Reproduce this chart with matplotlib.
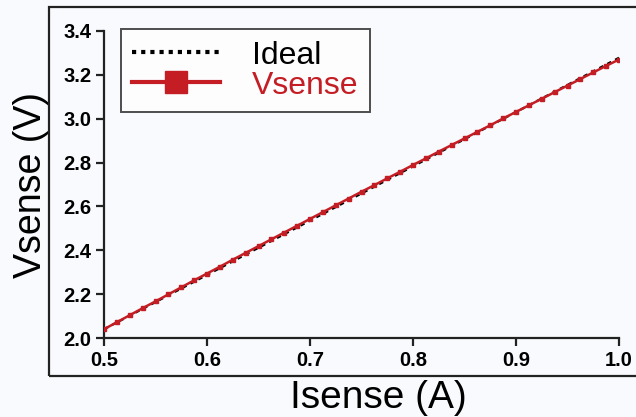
import matplotlib
matplotlib.use("Agg")
import matplotlib.pyplot as plt
from matplotlib.patches import Rectangle

# ── data ──────────────────────────────────────────────────────────────────────
isense = [0.5000, 0.5125, 0.5250, 0.5375, 0.5500, 0.5625, 0.5750, 0.5875,
          0.6000, 0.6125, 0.6250, 0.6375, 0.6500, 0.6625, 0.6750, 0.6875,
          0.7000, 0.7125, 0.7250, 0.7375, 0.7500, 0.7625, 0.7750, 0.7875,
          0.8000, 0.8125, 0.8250, 0.8375, 0.8500, 0.8625, 0.8750, 0.8875,
          0.9000, 0.9125, 0.9250, 0.9375, 0.9500, 0.9625, 0.9750, 0.9875,
          1.0000]
vsense = [2.040, 2.072, 2.104, 2.136, 2.167, 2.199, 2.231, 2.263,
          2.294, 2.325, 2.357, 2.388, 2.419, 2.450, 2.481, 2.512,
          2.543, 2.574, 2.605, 2.636, 2.667, 2.697, 2.728, 2.758,
          2.789, 2.819, 2.850, 2.880, 2.910, 2.940, 2.970, 3.001,
          3.031, 3.061, 3.091, 3.121, 3.151, 3.181, 3.211, 3.241,
          3.270]
ideal_x = [0.5, 1.0]
ideal_y = [2.040, 3.278]

xticks = [0.5, 0.6, 0.7, 0.8, 0.9, 1.0]
yticks = [2.0, 2.2, 2.4, 2.6, 2.8, 3.0, 3.2, 3.4]

RED = "#c41e24"
BG = "#f8fafd"

plt.rcParams["font.family"] = ["Liberation Sans", "DejaVu Sans"]

fig = plt.figure(figsize=(6.36, 4.17), dpi=100, facecolor=BG)
ax = fig.add_axes([104 / 636, 79 / 417, 515 / 636, 307 / 417])
ax.set_facecolor(BG)

# outer frame around the plot area
fig.patches.append(Rectangle((49 / 636, 41 / 417), 1.0, 369 / 417,
                             transform=fig.transFigure, fill=False,
                             edgecolor="#222222", linewidth=1.6))

ax.plot(ideal_x, ideal_y, color="black", linestyle=(0, (2, 2)), linewidth=1.6,
        label="Ideal", zorder=2)
ax.plot(isense, vsense, color=RED, linewidth=1.8, marker="s", markersize=3,
        label="Vsense", zorder=3)

ax.set_xlim(0.5, 1.0)
ax.set_ylim(2.0, 3.4)
ax.set_xticks(xticks)
ax.set_yticks(yticks)
ax.set_xticklabels([f"{t:.1f}" for t in xticks], fontsize=14.5, fontweight="bold")
ax.set_yticklabels([f"{t:.1f}" for t in yticks], fontsize=14.5, fontweight="bold")
ax.tick_params(direction="out", length=6, width=1.6, color="#222222", pad=3)

for s in ["top", "right"]:
    ax.spines[s].set_visible(False)
for s in ["left", "bottom"]:
    ax.spines[s].set_linewidth(1.6)
    ax.spines[s].set_color("#222222")

ax.set_xlabel("Isense (A)", fontsize=28)
ax.xaxis.set_label_coords((378 - 104) / 515, -0.137)
ax.set_ylabel("Vsense (V)", fontsize=27, labelpad=10)

# legend handles drawn larger than the data markers
h_ideal, = ax.plot([], [], color="black", linestyle=(0, (1.0, 1.2)), linewidth=3)
h_vs, = ax.plot([], [], color=RED, linewidth=3, marker="s", markersize=16)
leg = ax.legend([h_ideal, h_vs], ["Ideal", "Vsense"], loc="upper left",
                bbox_to_anchor=(0.033, 1.005), fontsize=23, frameon=True,
                fancybox=False, edgecolor="#222222", handlelength=2.75,
                borderpad=0.35, labelspacing=0.0, handletextpad=1.0,
                borderaxespad=0)
leg.get_frame().set_linewidth(1.4)
leg.get_frame().set_facecolor("white")
leg.get_texts()[1].set_color(RED)

plt.savefig("out.png", dpi=100, facecolor=BG)
